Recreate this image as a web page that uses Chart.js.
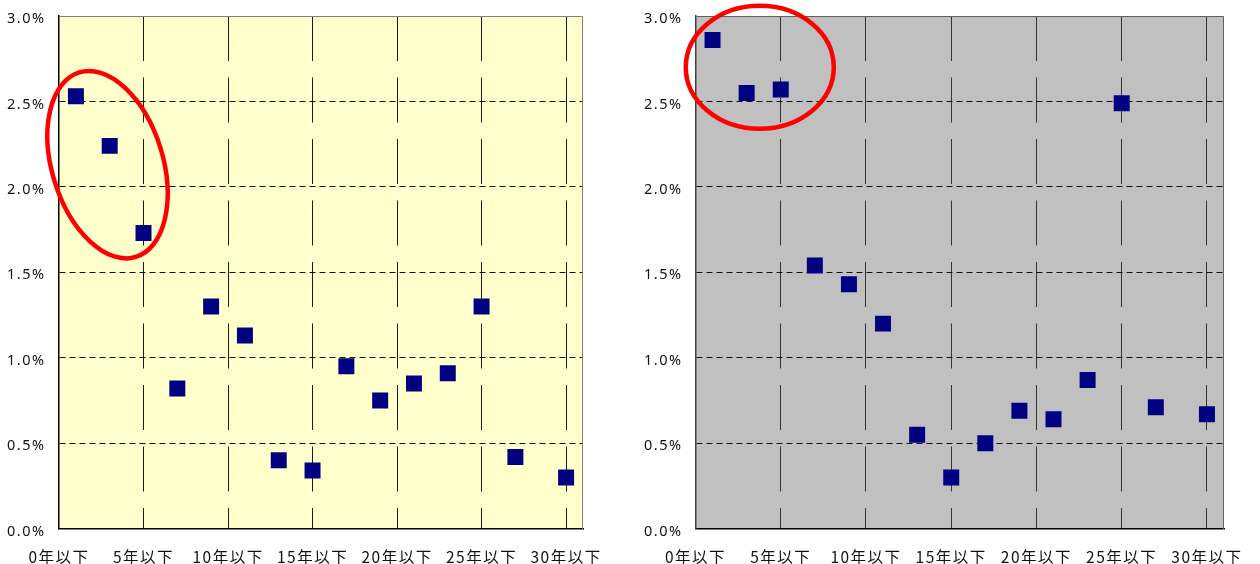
<!DOCTYPE html>
<html>
<head>
<meta charset="utf-8">
<script src="https://cdn.jsdelivr.net/npm/chart.js@4/dist/chart.umd.min.js"></script>
<style>
  html, body { margin: 0; padding: 0; background: #fff; }
  #wrap { position: relative; width: 1260px; height: 564px; }
  .panel { position: absolute; top: 0; width: 630px; height: 564px; }
  #p1 { left: 0; }
  #p2 { left: 630px; }
</style>
</head>
<body>
<div id="wrap">
  <div class="panel" id="p1"><canvas id="c1"></canvas></div>
  <div class="panel" id="p2"><canvas id="c2"></canvas></div>
</div>
<script>
// 年数 (x) と率 (%, y)
const years = [1, 3, 5, 7, 9, 11, 13, 15, 17, 19, 21, 23, 25, 27, 30];
const leftRates = [2.53, 2.24, 1.73, 0.82, 1.30, 1.13, 0.40, 0.34, 0.95, 0.75, 0.85, 0.91, 1.30, 0.42, 0.30];
const rightRates = [2.86, 2.55, 2.57, 1.54, 1.43, 1.20, 0.55, 0.30, 0.50, 0.69, 0.64, 0.87, 2.49, 0.71, 0.67];

const yearTicks = [0, 5, 10, 15, 20, 25, 30];
const yearLabels = ['0年以下', '5年以下', '10年以下', '15年以下', '20年以下', '25年以下', '30年以下'];
const rateTicks = [0, 0.5, 1.0, 1.5, 2.0, 2.5, 3.0];

// Red highlight rings: centre in axis units, radii in px, rotation in degrees
const leftRing = { x: 2.87, y: 2.13, rx: 55.5, ry: 96.5, rot: -17 };
const rightRing = { x: 3.77, y: 2.70, rx: 74, ry: 61.5, rot: 0 };

// Plot background, outer frame and highlight ring
const framePlugin = {
  id: 'framePlugin',
  beforeDraw(chart, args, opts) {
    const { ctx, chartArea: a } = chart;
    ctx.letterSpacing = '1.5px';
    ctx.save();
    ctx.fillStyle = opts.fill;
    ctx.fillRect(a.left, a.top, a.right - a.left, a.bottom - a.top);
    ctx.restore();
  },
  beforeDatasetsDraw(chart, args, opts) {
    const { ctx, chartArea: a } = chart;
    ctx.save();
    ctx.strokeStyle = opts.frame;
    ctx.lineWidth = 1;
    ctx.beginPath();
    ctx.moveTo(Math.round(a.left) + 0.5, Math.round(a.top) + 0.5);
    ctx.lineTo(Math.round(a.right) - 0.5, Math.round(a.top) + 0.5);
    ctx.lineTo(Math.round(a.right) - 0.5, Math.round(a.bottom));
    ctx.stroke();
    ctx.restore();
  },
  afterDatasetsDraw(chart, args, opts) {
    const r = opts.ring;
    if (!r) return;
    const { ctx, scales } = chart;
    const cx = scales.x.getPixelForValue(r.x);
    const cy = scales.y.getPixelForValue(r.y);
    ctx.save();
    ctx.strokeStyle = '#ff0000';
    ctx.lineWidth = 4.5;
    ctx.beginPath();
    ctx.ellipse(cx, cy, r.rx, r.ry, r.rot * Math.PI / 180, 0, Math.PI * 2);
    ctx.stroke();
    ctx.restore();
  }
};

function makeChart(id, rates, cfg) {
  return new Chart(document.getElementById(id), {
    type: 'scatter',
    data: {
      datasets: [{
        data: years.map((x, i) => ({ x, y: rates[i] })),
        pointStyle: 'rect',
        pointRadius: 11.3,
        pointHoverRadius: 11.3,
        backgroundColor: '#000080',
        borderWidth: 0
      }]
    },
    plugins: [framePlugin],
    options: {
      responsive: true,
      maintainAspectRatio: false,
      animation: false,
      events: [],
      layout: { padding: { top: 16, right: cfg.padRight, left: 0, bottom: 0 } },
      plugins: {
        legend: { display: false },
        tooltip: { enabled: false },
        framePlugin: { fill: cfg.fill, frame: cfg.frame, ring: cfg.ring }
      },
      scales: {
        x: {
          type: 'linear',
          min: 0,
          max: 31,
          afterBuildTicks: s => { s.ticks = yearTicks.map(v => ({ value: v })); },
          afterFit: s => { s.height = 35.3; s.paddingLeft = 0; s.paddingRight = 0; },
          ticks: {
            autoSkip: false,
            maxRotation: 0,
            padding: 19,
            color: '#111',
            font: { family: '"Noto Sans CJK JP", sans-serif', size: 15.5 },
            callback: v => { const i = yearTicks.indexOf(v); return i >= 0 ? yearLabels[i] : ''; }
          },
          grid: {
            drawTicks: false,
            lineWidth: 1,
            color: c => (c.tick && c.tick.value === 0) ? 'rgba(0,0,0,0)' : cfg.vgrid
          },
          border: { display: true, color: '#000', width: 1.5, dash: [45, 16.5], dashOffset: 0 }
        },
        y: {
          min: 0,
          max: 3,
          afterBuildTicks: s => { s.ticks = rateTicks.map(v => ({ value: v })); },
          afterFit: s => { s.width = cfg.yWidth; s.paddingTop = 0; s.paddingBottom = 0; },
          ticks: {
            padding: cfg.yPad,
            labelOffset: 3,
            color: '#111',
            font: { family: '"Noto Sans", sans-serif', size: 14.5 },
            callback: v => v.toFixed(1) + '%'
          },
          grid: {
            drawTicks: false,
            lineWidth: 1,
            color: c => (c.tick && (c.tick.value === 0 || c.tick.value === 3)) ? 'rgba(0,0,0,0)' : '#111'
          },
          border: { display: true, color: cfg.yBorder, width: 1.5, dash: [6, 4], dashOffset: 0 }
        }
      }
    }
  });
}

makeChart('c1', leftRates, {
  fill: '#ffffcc', frame: '#808080', vgrid: '#1a1a1a', yBorder: '#000',
  padRight: 47, yWidth: 59, yPad: 13.5, ring: leftRing
});
makeChart('c2', rightRates, {
  fill: '#c0c0c0', frame: '#606060', vgrid: '#333', yBorder: '#404040',
  padRight: 36, yWidth: 65.5, yPad: 13, ring: rightRing
});
</script>
</body>
</html>
